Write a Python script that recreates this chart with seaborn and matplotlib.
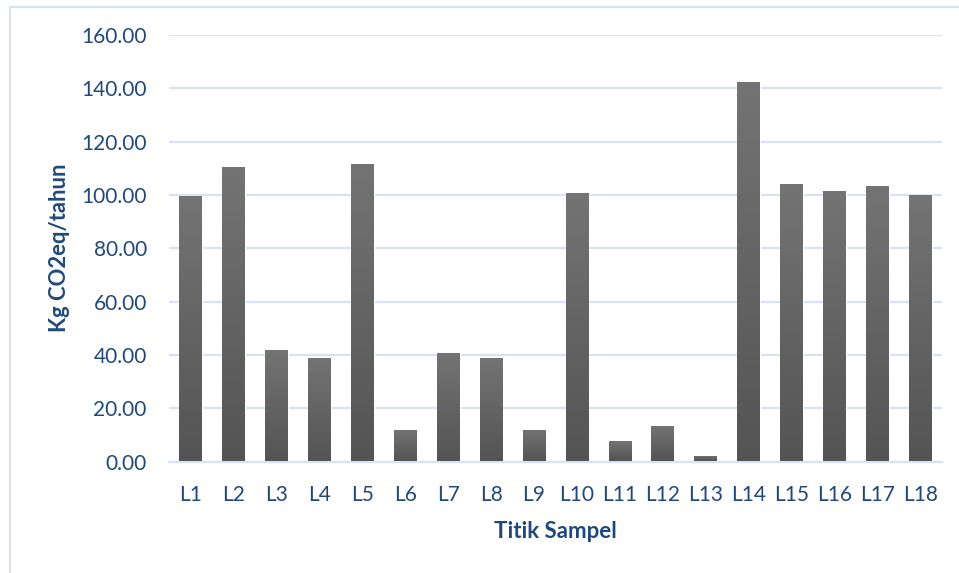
import numpy as np
import pandas as pd
import matplotlib
matplotlib.use("Agg")
import matplotlib.pyplot as plt
from matplotlib.colors import LinearSegmentedColormap
from matplotlib.patches import Rectangle
import seaborn as sns

# Emission per sampling point (kg CO2eq per year)
points = ["L1", "L2", "L3", "L4", "L5", "L6", "L7", "L8", "L9",
          "L10", "L11", "L12", "L13", "L14", "L15", "L16", "L17", "L18"]
emissions = [99.6, 110.5, 41.8, 38.8, 111.6, 11.8, 40.7, 38.8, 11.8,
             100.8, 7.7, 13.3, 2.0, 142.3, 104.1, 101.5, 103.3, 100.0]
y_ticks = [0, 20, 40, 60, 80, 100, 120, 140, 160]

TEXT = "#1F497D"
GRID = "#D9E2F3"

df = pd.DataFrame({"Titik": points, "Emisi": emissions})

sns.set_theme(style="white")
plt.rcParams["font.family"] = ["Lato", "DejaVu Sans"]

W, H = 959, 573
fig = plt.figure(figsize=(W / 100, H / 100), dpi=100)
ax = fig.add_axes([169 / W, 1 - 461.5 / H, (942 - 169) / W, (461.5 - 35) / H])

sns.barplot(data=df, x="Titik", y="Emisi", color="#646464", width=0.53,
            saturation=1, ax=ax, zorder=2)

# vertical shading inside each bar: lighter top, darker bottom
cmap = LinearSegmentedColormap.from_list("shade", ["#545454", "#747474"])
grad = np.linspace(0, 1, 256).reshape(-1, 1)
for patch in ax.patches:
    x0, y0 = patch.get_x(), patch.get_y()
    w, h = patch.get_width(), patch.get_height()
    im = ax.imshow(grad, extent=[x0, x0 + w, y0, y0 + h], origin="lower",
                   aspect="auto", cmap=cmap, zorder=3, interpolation="bicubic")
    im.set_clip_path(patch)

ax.set_xlim(-0.5, len(points) - 0.5)
ax.set_ylim(0, 160)
ax.set_yticks(y_ticks)
ax.set_yticklabels([f"{v:.2f}" for v in y_ticks])

ax.grid(axis="y", color=GRID, linewidth=1.6, zorder=0)
ax.set_axisbelow(True)
for side in ["top", "right", "left"]:
    ax.spines[side].set_visible(False)
ax.spines["bottom"].set_color(GRID)
ax.spines["bottom"].set_linewidth(1.6)

ax.tick_params(axis="y", length=0, pad=16, labelsize=15, labelcolor=TEXT)
ax.tick_params(axis="x", length=0, pad=17, labelsize=15, labelcolor=TEXT)

ax.set_xlabel("Titik Sampel", fontsize=16, fontweight="bold", color=TEXT)
ax.set_ylabel("Kg CO2eq/tahun", fontsize=15.8, fontweight="bold", color=TEXT)
ax.xaxis.set_label_coords(0.5, (461.5 - 521) / 426.5)
ax.yaxis.set_label_coords((70 - 169) / 773, 0.5)

# chart frame
fig.patches.append(Rectangle((9.5 / W, -0.05), 1.2, 1 - 6.5 / H + 0.05,
                             transform=fig.transFigure, fill=False,
                             edgecolor=GRID, linewidth=1.5))

fig.savefig("out.png", dpi=100)
